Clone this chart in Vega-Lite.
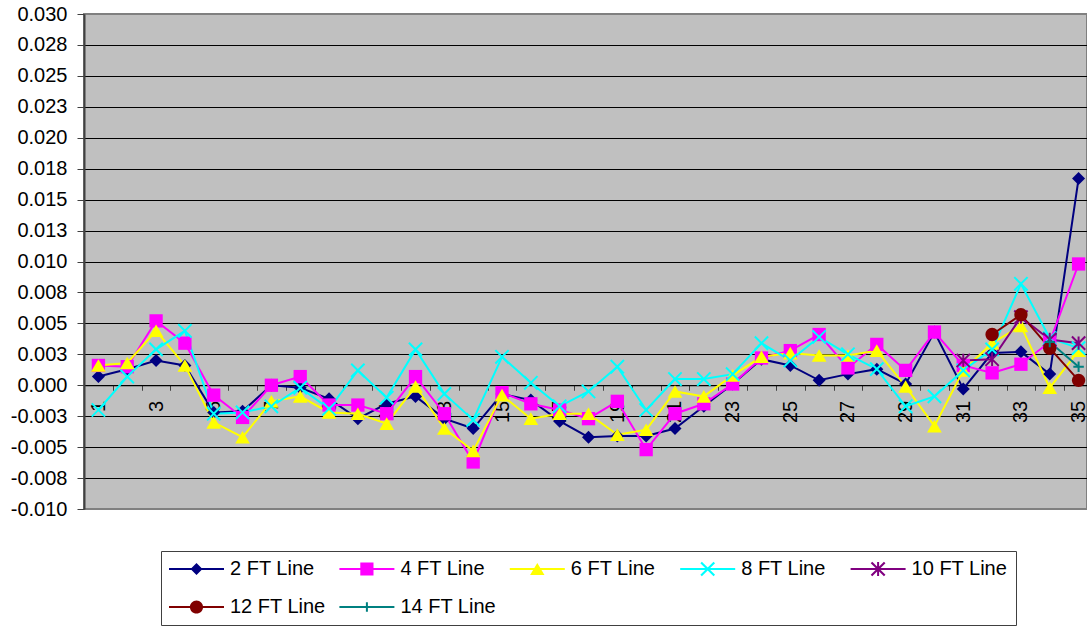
{
  "$schema": "https://vega.github.io/schema/vega-lite/v6.json",
  "width": 1003,
  "height": 495,
  "autosize": {"type": "none"},
  "padding": {"left": 84, "top": 14, "right": 0, "bottom": 125},
  "background": "white",
  "config": {
    "font": "Liberation Sans",
    "view": {"fill": "#C0C0C0", "stroke": "#808080", "strokeWidth": 2}
  },
  "data": {
    "values": [
      {"s": "2 FT Line", "x": 1, "y": 0.0007}, {"s": "2 FT Line", "x": 2, "y": 0.0013}, {"s": "2 FT Line", "x": 3, "y": 0.002}, {"s": "2 FT Line", "x": 4, "y": 0.0016}, {"s": "2 FT Line", "x": 5, "y": -0.0022}, {"s": "2 FT Line", "x": 6, "y": -0.0021}, {"s": "2 FT Line", "x": 7, "y": 0.0}, {"s": "2 FT Line", "x": 8, "y": -0.0002}, {"s": "2 FT Line", "x": 9, "y": -0.0011}, {"s": "2 FT Line", "x": 10, "y": -0.0027}, {"s": "2 FT Line", "x": 11, "y": -0.0015}, {"s": "2 FT Line", "x": 12, "y": -0.0009}, {"s": "2 FT Line", "x": 13, "y": -0.0027}, {"s": "2 FT Line", "x": 14, "y": -0.0035}, {"s": "2 FT Line", "x": 15, "y": -0.0007}, {"s": "2 FT Line", "x": 16, "y": -0.0012}, {"s": "2 FT Line", "x": 17, "y": -0.0029}, {"s": "2 FT Line", "x": 18, "y": -0.0042}, {"s": "2 FT Line", "x": 19, "y": -0.0041}, {"s": "2 FT Line", "x": 20, "y": -0.0041}, {"s": "2 FT Line", "x": 21, "y": -0.0035}, {"s": "2 FT Line", "x": 22, "y": -0.0017}, {"s": "2 FT Line", "x": 23, "y": 0.0001}, {"s": "2 FT Line", "x": 24, "y": 0.0021}, {"s": "2 FT Line", "x": 25, "y": 0.0016}, {"s": "2 FT Line", "x": 26, "y": 0.0004}, {"s": "2 FT Line", "x": 27, "y": 0.0009}, {"s": "2 FT Line", "x": 28, "y": 0.0013}, {"s": "2 FT Line", "x": 29, "y": 0.0001}, {"s": "2 FT Line", "x": 30, "y": 0.0043}, {"s": "2 FT Line", "x": 31, "y": -0.0003}, {"s": "2 FT Line", "x": 32, "y": 0.0026}, {"s": "2 FT Line", "x": 33, "y": 0.0027}, {"s": "2 FT Line", "x": 34, "y": 0.0009}, {"s": "2 FT Line", "x": 35, "y": 0.0167},
      {"s": "4 FT Line", "x": 1, "y": 0.0016}, {"s": "4 FT Line", "x": 2, "y": 0.0015}, {"s": "4 FT Line", "x": 3, "y": 0.0052}, {"s": "4 FT Line", "x": 4, "y": 0.0034}, {"s": "4 FT Line", "x": 5, "y": -0.0008}, {"s": "4 FT Line", "x": 6, "y": -0.0026}, {"s": "4 FT Line", "x": 7, "y": 0.0}, {"s": "4 FT Line", "x": 8, "y": 0.0007}, {"s": "4 FT Line", "x": 9, "y": -0.0016}, {"s": "4 FT Line", "x": 10, "y": -0.0016}, {"s": "4 FT Line", "x": 11, "y": -0.0023}, {"s": "4 FT Line", "x": 12, "y": 0.0007}, {"s": "4 FT Line", "x": 13, "y": -0.0023}, {"s": "4 FT Line", "x": 14, "y": -0.0062}, {"s": "4 FT Line", "x": 15, "y": -0.0006}, {"s": "4 FT Line", "x": 16, "y": -0.0015}, {"s": "4 FT Line", "x": 17, "y": -0.002}, {"s": "4 FT Line", "x": 18, "y": -0.0027}, {"s": "4 FT Line", "x": 19, "y": -0.0013}, {"s": "4 FT Line", "x": 20, "y": -0.0052}, {"s": "4 FT Line", "x": 21, "y": -0.0023}, {"s": "4 FT Line", "x": 22, "y": -0.0015}, {"s": "4 FT Line", "x": 23, "y": 0.0001}, {"s": "4 FT Line", "x": 24, "y": 0.0022}, {"s": "4 FT Line", "x": 25, "y": 0.0028}, {"s": "4 FT Line", "x": 26, "y": 0.0041}, {"s": "4 FT Line", "x": 27, "y": 0.0014}, {"s": "4 FT Line", "x": 28, "y": 0.0033}, {"s": "4 FT Line", "x": 29, "y": 0.0012}, {"s": "4 FT Line", "x": 30, "y": 0.0043}, {"s": "4 FT Line", "x": 31, "y": 0.0016}, {"s": "4 FT Line", "x": 32, "y": 0.001}, {"s": "4 FT Line", "x": 33, "y": 0.0017}, {"s": "4 FT Line", "x": 34, "y": 0.0035}, {"s": "4 FT Line", "x": 35, "y": 0.0098},
      {"s": "6 FT Line", "x": 1, "y": 0.0016}, {"s": "6 FT Line", "x": 2, "y": 0.0018}, {"s": "6 FT Line", "x": 3, "y": 0.0044}, {"s": "6 FT Line", "x": 4, "y": 0.0016}, {"s": "6 FT Line", "x": 5, "y": -0.003}, {"s": "6 FT Line", "x": 6, "y": -0.0042}, {"s": "6 FT Line", "x": 7, "y": -0.0013}, {"s": "6 FT Line", "x": 8, "y": -0.0009}, {"s": "6 FT Line", "x": 9, "y": -0.0022}, {"s": "6 FT Line", "x": 10, "y": -0.0023}, {"s": "6 FT Line", "x": 11, "y": -0.0031}, {"s": "6 FT Line", "x": 12, "y": -0.0001}, {"s": "6 FT Line", "x": 13, "y": -0.0035}, {"s": "6 FT Line", "x": 14, "y": -0.0053}, {"s": "6 FT Line", "x": 15, "y": -0.0008}, {"s": "6 FT Line", "x": 16, "y": -0.0027}, {"s": "6 FT Line", "x": 17, "y": -0.0023}, {"s": "6 FT Line", "x": 18, "y": -0.0023}, {"s": "6 FT Line", "x": 19, "y": -0.004}, {"s": "6 FT Line", "x": 20, "y": -0.0036}, {"s": "6 FT Line", "x": 21, "y": -0.0005}, {"s": "6 FT Line", "x": 22, "y": -0.0009}, {"s": "6 FT Line", "x": 23, "y": 0.0008}, {"s": "6 FT Line", "x": 24, "y": 0.0023}, {"s": "6 FT Line", "x": 25, "y": 0.0026}, {"s": "6 FT Line", "x": 26, "y": 0.0024}, {"s": "6 FT Line", "x": 27, "y": 0.0024}, {"s": "6 FT Line", "x": 28, "y": 0.0028}, {"s": "6 FT Line", "x": 29, "y": -0.0001}, {"s": "6 FT Line", "x": 30, "y": -0.0033}, {"s": "6 FT Line", "x": 31, "y": 0.0012}, {"s": "6 FT Line", "x": 32, "y": 0.0034}, {"s": "6 FT Line", "x": 33, "y": 0.0048}, {"s": "6 FT Line", "x": 34, "y": -0.0002}, {"s": "6 FT Line", "x": 35, "y": 0.0028},
      {"s": "8 FT Line", "x": 1, "y": -0.002}, {"s": "8 FT Line", "x": 2, "y": 0.0007}, {"s": "8 FT Line", "x": 3, "y": 0.0029}, {"s": "8 FT Line", "x": 4, "y": 0.0044}, {"s": "8 FT Line", "x": 5, "y": -0.0023}, {"s": "8 FT Line", "x": 6, "y": -0.0022}, {"s": "8 FT Line", "x": 7, "y": -0.0017}, {"s": "8 FT Line", "x": 8, "y": -0.0002}, {"s": "8 FT Line", "x": 9, "y": -0.0019}, {"s": "8 FT Line", "x": 10, "y": 0.0012}, {"s": "8 FT Line", "x": 11, "y": -0.001}, {"s": "8 FT Line", "x": 12, "y": 0.0029}, {"s": "8 FT Line", "x": 13, "y": -0.0007}, {"s": "8 FT Line", "x": 14, "y": -0.0028}, {"s": "8 FT Line", "x": 15, "y": 0.0023}, {"s": "8 FT Line", "x": 16, "y": 0.0002}, {"s": "8 FT Line", "x": 17, "y": -0.0017}, {"s": "8 FT Line", "x": 18, "y": -0.0005}, {"s": "8 FT Line", "x": 19, "y": 0.0015}, {"s": "8 FT Line", "x": 20, "y": -0.002}, {"s": "8 FT Line", "x": 21, "y": 0.0005}, {"s": "8 FT Line", "x": 22, "y": 0.0005}, {"s": "8 FT Line", "x": 23, "y": 0.0009}, {"s": "8 FT Line", "x": 24, "y": 0.0034}, {"s": "8 FT Line", "x": 25, "y": 0.002}, {"s": "8 FT Line", "x": 26, "y": 0.0039}, {"s": "8 FT Line", "x": 27, "y": 0.0025}, {"s": "8 FT Line", "x": 28, "y": 0.0013}, {"s": "8 FT Line", "x": 29, "y": -0.0017}, {"s": "8 FT Line", "x": 30, "y": -0.0009}, {"s": "8 FT Line", "x": 31, "y": 0.0012}, {"s": "8 FT Line", "x": 32, "y": 0.0029}, {"s": "8 FT Line", "x": 33, "y": 0.0082}, {"s": "8 FT Line", "x": 34, "y": 0.0038}, {"s": "8 FT Line", "x": 35, "y": 0.003},
      {"s": "10 FT Line", "x": 31, "y": 0.002}, {"s": "10 FT Line", "x": 32, "y": 0.0021}, {"s": "10 FT Line", "x": 33, "y": 0.0055}, {"s": "10 FT Line", "x": 34, "y": 0.0037}, {"s": "10 FT Line", "x": 35, "y": 0.0034},
      {"s": "12 FT Line", "x": 32, "y": 0.0041}, {"s": "12 FT Line", "x": 33, "y": 0.0057}, {"s": "12 FT Line", "x": 34, "y": 0.003}, {"s": "12 FT Line", "x": 35, "y": 0.0004},
      {"s": "14 FT Line", "x": 34, "y": 0.0035}, {"s": "14 FT Line", "x": 35, "y": 0.0015}
    ]
  },
  "encoding": {
    "x": {
      "field": "x",
      "type": "ordinal",
      "scale": {"type": "band", "domain": [1,2,3,4,5,6,7,8,9,10,11,12,13,14,15,16,17,18,19,20,21,22,23,24,25,26,27,28,29,30,31,32,33,34,35], "range": [0, 1009], "paddingInner": 0, "paddingOuter": 0},
      "axis": {
        "title": null,
        "orient": "bottom",
        "offset": -123.75,
        "labelAngle": -90,
        "labelAlign": "right",
        "labelBaseline": "middle",
        "labelExpr": "datum.value % 2 == 1 ? datum.label : ''",
        "labelFontSize": 20,
        "labelColor": "black",
        "labelPadding": 10,
        "labelOverlap": false,
        "tickSize": 5,
        "tickBand": "extent",
        "tickColor": "#404040",
        "domainColor": "black",
        "grid": false
      }
    },
    "y": {
      "field": "y",
      "type": "quantitative",
      "scale": {"domain": [-0.01, 0.03], "nice": false, "zero": false},
      "axis": {
        "title": null,
        "values": [-0.01, -0.0075, -0.005, -0.0025, 0, 0.0025, 0.005, 0.0075, 0.01, 0.0125, 0.015, 0.0175, 0.02, 0.0225, 0.025, 0.0275, 0.03],
        "labelExpr": "(datum.value < -1e-9 ? '-' : '') + format(abs(datum.value) + 1e-9, '.3f')",
        "labelFontSize": 20,
        "labelColor": "black",
        "labelPadding": 10,
        "tickSize": 7,
        "tickColor": "#404040",
        "domainColor": "#404040",
        "domainWidth": 2,
        "grid": true,
        "gridColor": {"condition": {"test": "datum.value >= 0.0299 || datum.value <= -0.0099", "value": "#808080"}, "value": "black"},
        "gridOpacity": 1
      }
    }
  },
  "layer": [
    {
      "mark": {"type": "line", "strokeWidth": 2},
      "encoding": {
        "color": {"field": "s", "type": "nominal", "scale": {"domain": ["2 FT Line", "4 FT Line", "6 FT Line", "8 FT Line", "10 FT Line", "12 FT Line", "14 FT Line"], "range": ["#000080", "#FF00FF", "#FFFF00", "#00FFFF", "#800080", "#800000", "#008080"]}, "legend": null}
      }
    },
    {
      "mark": {"type": "point", "filled": true, "opacity": 1, "size": 196},
      "encoding": {
        "color": {"field": "s", "type": "nominal", "scale": {"domain": ["2 FT Line", "4 FT Line", "6 FT Line", "8 FT Line", "10 FT Line", "12 FT Line", "14 FT Line"], "range": ["#000080", "#FF00FF", "#FFFF00", "#00FFFF", "#800080", "#800000", "#008080"]}, "legend": null},
        "shape": {"field": "s", "type": "nominal", "scale": {"domain": ["2 FT Line", "4 FT Line", "6 FT Line", "8 FT Line", "10 FT Line", "12 FT Line", "14 FT Line"], "range": [
          "M0,-0.93L0.93,0L0,0.93L-0.93,0Z",
          "M-0.95,-0.95H0.95V0.95H-0.95Z",
          "M0,-0.9L1.05,0.9H-1.05Z",
          "M-0.849,-1.051L1.051,0.849L0.849,1.051L-1.051,-0.849Z M1.051,-0.849L-0.849,1.051L-1.051,0.849L0.849,-1.051Z",
          "M-0.849,-1.051L1.051,0.849L0.849,1.051L-1.051,-0.849Z M1.051,-0.849L-0.849,1.051L-1.051,0.849L0.849,-1.051Z M-0.143,-0.95H0.143V0.95H-0.143Z",
          "M0.95,0A0.95,0.95 0 1,1 -0.95,0A0.95,0.95 0 1,1 0.95,0Z",
          "M-0.75,-0.143H0.75V0.143H-0.75Z M-0.143,-0.75H0.143V0.75H-0.143Z"
        ]}, "legend": null}
      }
    },
    {
      "transform": [{"filter": "datum.x > 100"}],
      "mark": {"type": "point", "filled": true, "opacity": 1, "size": 400},
      "encoding": {
        "color": {"field": "s", "type": "nominal", "scale": {"domain": ["2 FT Line", "4 FT Line", "6 FT Line", "8 FT Line", "10 FT Line", "12 FT Line", "14 FT Line"], "range": ["#000080", "#FF00FF", "#FFFF00", "#00FFFF", "#800080", "#800000", "#008080"]},
          "legend": {"title": null, "orient": "none", "legendX": 77, "legendY": 537, "direction": "horizontal", "columns": 5, "gridAlign": "all", "symbolSize": 400, "symbolOffset": 17.5, "symbolStrokeWidth": 0, "symbolOpacity": 1, "labelFontSize": 20, "labelColor": "black", "labelOffset": 23.5, "labelLimit": 0, "columnPadding": 13.4, "rowPadding": 18, "padding": 8, "strokeColor": "#404040", "fillColor": "white"}},
        "shape": {"field": "s", "type": "nominal", "scale": {"domain": ["2 FT Line", "4 FT Line", "6 FT Line", "8 FT Line", "10 FT Line", "12 FT Line", "14 FT Line"], "range": [
          "M-2.75,-0.1H2.75V0.1H-2.75Z M0,-0.6L0.6,0L0,0.6L-0.6,0Z",
          "M-2.75,-0.1H2.75V0.1H-2.75Z M-0.66,-0.66H0.66V0.66H-0.66Z",
          "M-2.75,-0.1H2.75V0.1H-2.75Z M0,-0.6L0.72,0.6H-0.72Z",
          "M-2.75,-0.1H2.75V0.1H-2.75Z M-0.585,-0.735L0.735,0.585L0.585,0.735L-0.735,-0.585Z M0.735,-0.585L-0.585,0.735L-0.735,0.585L0.585,-0.735Z",
          "M-2.75,-0.1H2.75V0.1H-2.75Z M-0.585,-0.735L0.735,0.585L0.585,0.735L-0.735,-0.585Z M0.735,-0.585L-0.585,0.735L-0.735,0.585L0.585,-0.735Z M-0.1,-0.69H0.1V0.69H-0.1Z",
          "M-2.75,-0.1H2.75V0.1H-2.75Z M0.66,0A0.66,0.66 0 1,1 -0.66,0A0.66,0.66 0 1,1 0.66,0Z",
          "M-2.75,-0.1H2.75V0.1H-2.75Z M-0.47,-0.1H0.47V0.1H-0.47Z M-0.1,-0.47H0.1V0.47H-0.1Z"
        ]},
          "legend": {"title": null, "orient": "none", "legendX": 77, "legendY": 537, "direction": "horizontal", "columns": 5, "gridAlign": "all", "symbolSize": 400, "symbolOffset": 17.5, "symbolStrokeWidth": 0, "symbolOpacity": 1, "labelFontSize": 20, "labelColor": "black", "labelOffset": 23.5, "labelLimit": 0, "columnPadding": 13.4, "rowPadding": 18, "padding": 8, "strokeColor": "#404040", "fillColor": "white"}}
      }
    }
  ],
  "resolve": {
    "scale": {"color": "independent", "shape": "independent"},
    "legend": {"color": "independent", "shape": "independent"}
  }
}
